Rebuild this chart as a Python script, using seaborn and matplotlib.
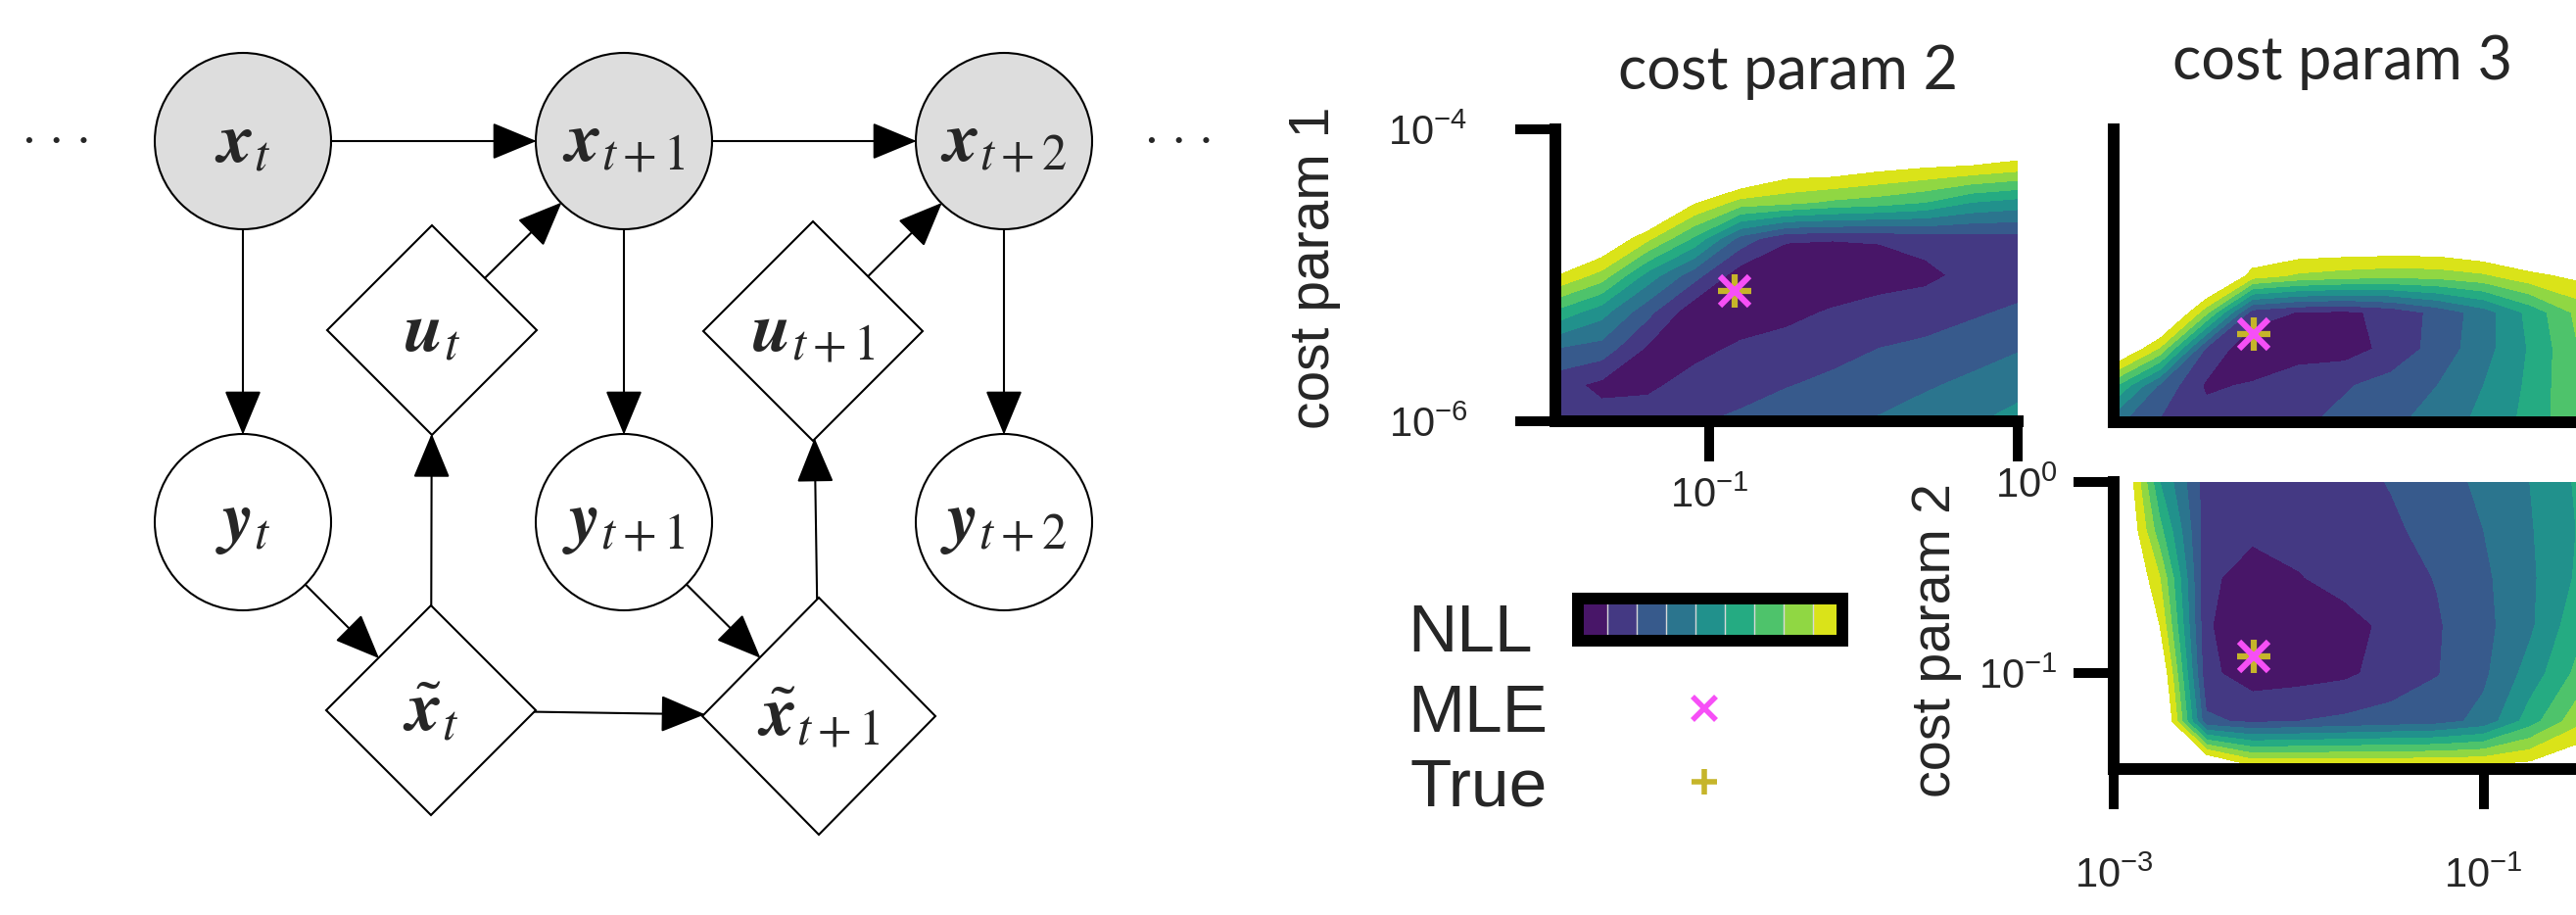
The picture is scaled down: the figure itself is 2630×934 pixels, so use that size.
import numpy as np
import matplotlib
matplotlib.use("Agg")
import matplotlib.pyplot as plt
import seaborn as sns
from matplotlib.patches import Circle, Polygon, FancyArrowPatch
from matplotlib.lines import Line2D

sns.set_theme(style="white")
plt.rcParams['font.family'] = ['Liberation Sans', 'DejaVu Sans']
plt.rcParams['mathtext.fontset'] = 'custom'
plt.rcParams['mathtext.rm'] = 'STIXGeneral'
plt.rcParams['mathtext.it'] = 'STIXGeneral:italic'
plt.rcParams['mathtext.bf'] = 'STIXGeneral:italic:bold'
plt.rcParams['mathtext.default'] = 'regular'

# ---------------- data ----------------
# log10 grid of the NLL slices, values are band index of the discrete colour map (>9 = blank)
cp2_exp_A = [-1.5, -1.35, -1.2, -1.05, -0.9, -0.75, -0.6, -0.45, -0.3, -0.15, 0.0]
cp1_exp = [-6.0, -5.75, -5.5, -5.25, -5.0, -4.75, -4.5, -4.25, -4.0]
nll_A = [
    [1.3, 1.4, 1.5, 1.9, 2.2, 2.5, 2.9, 3.1, 3.55, 3.9, 4.3],
    [1.4, 0.75, 0.8, 1.35, 1.6, 1.95, 2.2, 2.5, 2.85, 3.25, 3.7],
    [3.0, 2.6, 0.85, 0.7, 1.15, 1.4, 1.7, 2.0, 2.15, 2.5, 2.9],
    [5.8, 4.4, 2.3, 0.3, 0.45, 0.7, 1.1, 1.5, 1.65, 1.85, 2.15],
    [9.1, 7.6, 4.6, 2.4, 0.4, 0.25, 0.2, 0.4, 0.7, 1.35, 1.5],
    [14, 10.5, 8.2, 5.8, 2.6, 1.1, 1.05, 1.1, 1.4, 1.5, 1.6],
    [16, 14, 12, 9.2, 7.6, 7.3, 6.8, 6.5, 6.0, 5.0, 4.6],
    [18, 16, 15, 13, 11.5, 10, 10, 9.5, 9.2, 9.0, 8.6],
    [20, 18, 17, 16, 15, 13, 13, 13, 12, 12, 11.5],
]

cp3_exp = [-3.0, -2.75, -2.5, -2.25, -2.0, -1.75, -1.5, -1.25, -1.0, -0.75, -0.5]
nll_B = [
    [3.3, 1.9, 1.4, 1.5, 1.8, 2.3, 2.8, 3.4, 4.3, 5.3, 6.8],
    [6.2, 2.8, 0.85, 1.1, 1.5, 1.9, 2.4, 3.0, 4.0, 5.2, 6.9],
    [11, 7.8, 1.8, 0.2, 0.6, 0.55, 1.3, 2.4, 3.6, 5.1, 6.9],
    [13, 12, 7.3, 1.5, 0.95, 0.8, 1.3, 2.3, 3.5, 5.3, 7.2],
    [15, 14, 12, 8.5, 7.8, 7.5, 7.3, 7.4, 7.8, 8.7, 9.3],
    [17, 16, 14, 11, 10.5, 10.5, 10.5, 10.5, 11, 11.5, 12],
    [18, 17, 16, 14, 13, 13, 13, 13, 13, 13, 14],
    [19, 18, 17, 16, 15, 15, 15, 15, 15, 15, 15],
    [20, 19, 18, 17, 16, 16, 16, 16, 16, 16, 16],
]

cp2_exp_C = [-1.5, -1.25, -1.0, -0.75, -0.5, -0.25, 0.0]
nll_C = [
    [13, 14, 12, 9.6, 9.6, 9.6, 9.6, 9.6, 9.6, 9.7, 10.5],
    [13, 11.5, 2.2, 1.8, 2.0, 2.2, 2.4, 2.6, 3.3, 5.5, 7.6],
    [13, 10.5, 1.25, 0.5, 0.6, 0.8, 1.4, 1.95, 2.8, 4.4, 6.2],
    [12.5, 9.0, 1.1, 0.4, 0.5, 0.7, 1.2, 1.9, 2.7, 3.8, 5.6],
    [12, 8.0, 1.2, 0.6, 0.95, 1.3, 1.6, 2.05, 2.8, 3.8, 5.1],
    [12, 6.3, 1.4, 1.2, 1.3, 1.6, 1.85, 2.3, 3.0, 3.9, 5.0],
    [12, 5.0, 1.5, 1.4, 1.5, 1.7, 2.05, 2.6, 3.2, 4.0, 5.1],
]

# (log10 x, log10 y) of the estimates in each slice
mle_A = [-0.92, -5.11]
true_A = [-0.92, -5.11]
mle_B = [-2.24, -5.40]
true_B = [-2.24, -5.40]
mle_C = [-2.24, -0.91]
true_C = [-2.24, -0.91]

nll_levels = list(range(10))

# graphical model
x_labels = [r'$\mathbf{x}_{\mathit{t}}$', r'$\mathbf{x}_{\mathit{t}+1}$', r'$\mathbf{x}_{\mathit{t}+2}$']
y_labels = [r'$\mathbf{y}_{\mathit{t}}$', r'$\mathbf{y}_{\mathit{t}+1}$', r'$\mathbf{y}_{\mathit{t}+2}$']
u_labels = [r'$\mathbf{u}_{\mathit{t}}$', r'$\mathbf{u}_{\mathit{t}+1}$']
xt_labels = [r'$\tilde{\mathbf{x}}_{\mathit{t}}$', r'$\tilde{\mathbf{x}}_{\mathit{t}+1}$']

# ---------------- figure ----------------
W, H = 2630, 934
fig = plt.figure(figsize=(W / 100, H / 100), dpi=100)
fig.patch.set_facecolor('white')


def box(l, t, r, b):
    return [l / W, 1 - b / H, (r - l) / W, (b - t) / H]


ov = fig.add_axes([0, 0, 1, 1])
ov.set_xlim(0, W)
ov.set_ylim(H, 0)
ov.axis('off')

# --- graphical model (left) ---
EDGE = 1.5
GRAY = '#dddddd'
shapes = {}
for k, cx in enumerate([248, 637, 1025]):
    c = Circle((cx, 144), 90, fc=GRAY, ec='black', lw=EDGE, zorder=2)
    ov.add_patch(c)
    shapes['x%d' % k] = c
    ov.text(cx, 148, x_labels[k], ha='center', va='center', fontsize=52,
            family='STIXGeneral', zorder=3)
    c = Circle((cx, 533), 90, fc='white', ec='black', lw=EDGE, zorder=2)
    ov.add_patch(c)
    shapes['y%d' % k] = c
    ov.text(cx, 535, y_labels[k], ha='center', va='center', fontsize=52,
            family='STIXGeneral', zorder=3)


def diamond(cx, cy, hw, hh):
    return Polygon([(cx, cy - hh), (cx + hw, cy), (cx, cy + hh), (cx - hw, cy)],
                   closed=True, fc='white', ec='black', lw=EDGE, zorder=2)


for k, (cx, cy, hw, hh) in enumerate([(441, 337, 107, 107), (830, 338, 112, 112)]):
    d = diamond(cx, cy, hw, hh)
    ov.add_patch(d)
    shapes['u%d' % k] = d
    ov.text(cx, cy + 4, u_labels[k], ha='center', va='center', fontsize=52,
            family='STIXGeneral', zorder=3)
for k, (cx, cy, hw, hh) in enumerate([(440, 725, 107, 107), (836, 731, 119, 121)]):
    d = diamond(cx, cy, hw, hh)
    ov.add_patch(d)
    shapes['xt%d' % k] = d
    ov.text(cx, cy + 4, xt_labels[k], ha='center', va='center', fontsize=52,
            family='STIXGeneral', zorder=3)

centres = {'x0': (248, 144), 'x1': (637, 144), 'x2': (1025, 144),
           'y0': (248, 533), 'y1': (637, 533), 'y2': (1025, 533),
           'u0': (441, 337), 'u1': (830, 338), 'xt0': (440, 725), 'xt1': (836, 731)}
edges = [('x0', 'x1'), ('x1', 'x2'), ('x0', 'y0'), ('x1', 'y1'), ('x2', 'y2'),
         ('u0', 'x1'), ('u1', 'x2'), ('xt0', 'u0'), ('xt1', 'u1'),
         ('y0', 'xt0'), ('y1', 'xt1'), ('xt0', 'xt1')]
for a, b in edges:
    ov.add_patch(FancyArrowPatch(centres[a], centres[b], patchA=shapes[a], patchB=shapes[b],
                                 shrinkA=0, shrinkB=0, lw=EDGE, color='black',
                                 arrowstyle='-|>,head_length=29,head_width=12',
                                 mutation_scale=1, zorder=1))
for xd in (58, 1204):
    ov.text(xd, 144, '\u00b7 \u00b7 \u00b7', ha='center', va='center', fontsize=40,
            family='STIXGeneral')

# --- NLL slices (right) ---
cmap = sns.color_palette('viridis', as_cmap=True)
MLE_C = '#f64ff6'
TRUE_C = '#c6b52a'
SPW = 8.6
TICK_FS = 30


def panel(rect, xe, ye, z, mle, true):
    ax = fig.add_axes(rect)
    cf = ax.contourf(xe, ye, np.array(z), levels=nll_levels, cmap=cmap)
    ax.plot(true[0], true[1], ls='none', marker='+', ms=24, mew=4.5, color=TRUE_C, zorder=4)
    ax.plot(mle[0], mle[1], ls='none', marker='x', ms=22, mew=4.5, color=MLE_C, zorder=5)
    ax.set_xlim(xe[0], xe[-1])
    ax.set_ylim(ye[0], ye[-1])
    sns.despine(ax=ax)
    for s in ('left', 'bottom'):
        ax.spines[s].set_linewidth(SPW)
        ax.spines[s].set_color('black')
    ax.tick_params(bottom=True, left=True, direction='out', length=29.5, width=7.2,
                   color='black', labelcolor='#262626')
    ax.grid(False)
    return ax, cf


def exp_label(v):
    return r'$10^{%d}$' % v


axA, cfA = panel(box(1588, 132, 2060, 430), cp2_exp_A, cp1_exp, nll_A, mle_A, true_A)
axA.set_xticks([-1, 0], [exp_label(-1), ''], fontsize=TICK_FS)
axA.set_yticks([-6, -4], [exp_label(-6), exp_label(-4)], fontsize=TICK_FS)
axA.tick_params(axis='x', pad=11)
axA.tick_params(axis='y', pad=35)

axB, _ = panel(box(2158, 132, 2630, 431), cp3_exp, cp1_exp, nll_B, mle_B, true_B)
axB.set_xticks([])
axB.set_yticks([])

axC, _ = panel(box(2158, 492, 2630, 785), cp3_exp, cp2_exp_C, nll_C, mle_C, true_C)
axC.set_xticks([-3, -1], [exp_label(-3), exp_label(-1)], fontsize=TICK_FS)
axC.set_yticks([-1, 0], [exp_label(-1), exp_label(0)], fontsize=TICK_FS)
axC.tick_params(axis='x', pad=35)
axC.tick_params(axis='y', pad=12)

# titles and axis names
ov.text(1826, 91, 'cost param 2', ha='center', va='baseline', fontsize=44, family='Lato')
ov.text(2392, 81, 'cost param 3', ha='center', va='baseline', fontsize=44, family='Lato')
ov.text(1342, 273, 'cost param 1', rotation=90, ha='center', va='center', fontsize=41)
ov.text(1977, 654, 'cost param 2', rotation=90, ha='center', va='center', fontsize=40)

# legend: colour bar + markers
cax = fig.add_axes(box(1611, 611, 1881, 654))
cb = fig.colorbar(cfA, cax=cax, orientation='horizontal', drawedges=True)
cb.set_ticks([])
cb.outline.set_linewidth(SPW)
cb.outline.set_edgecolor('black')
cb.dividers.set_color('#d8d8d8')
cb.dividers.set_linewidth(1.0)
ov.text(1437, 665, 'NLL', ha='left', va='baseline', fontsize=50)

h_mle = Line2D([], [], ls='none', marker='x', ms=17, mew=4, color=MLE_C)
h_true = Line2D([], [], ls='none', marker='+', ms=19, mew=4, color=TRUE_C)
fig.legend([h_mle, h_true], ['MLE', 'True'], loc='upper left',
           bbox_to_anchor=(1437 / W, 1 - 697 / H), frameon=False, markerfirst=False,
           fontsize=50, handlelength=1.0, handletextpad=1.8, labelspacing=0.16,
           borderpad=0, borderaxespad=0)

fig.savefig('out.png', dpi=100, facecolor='white')
